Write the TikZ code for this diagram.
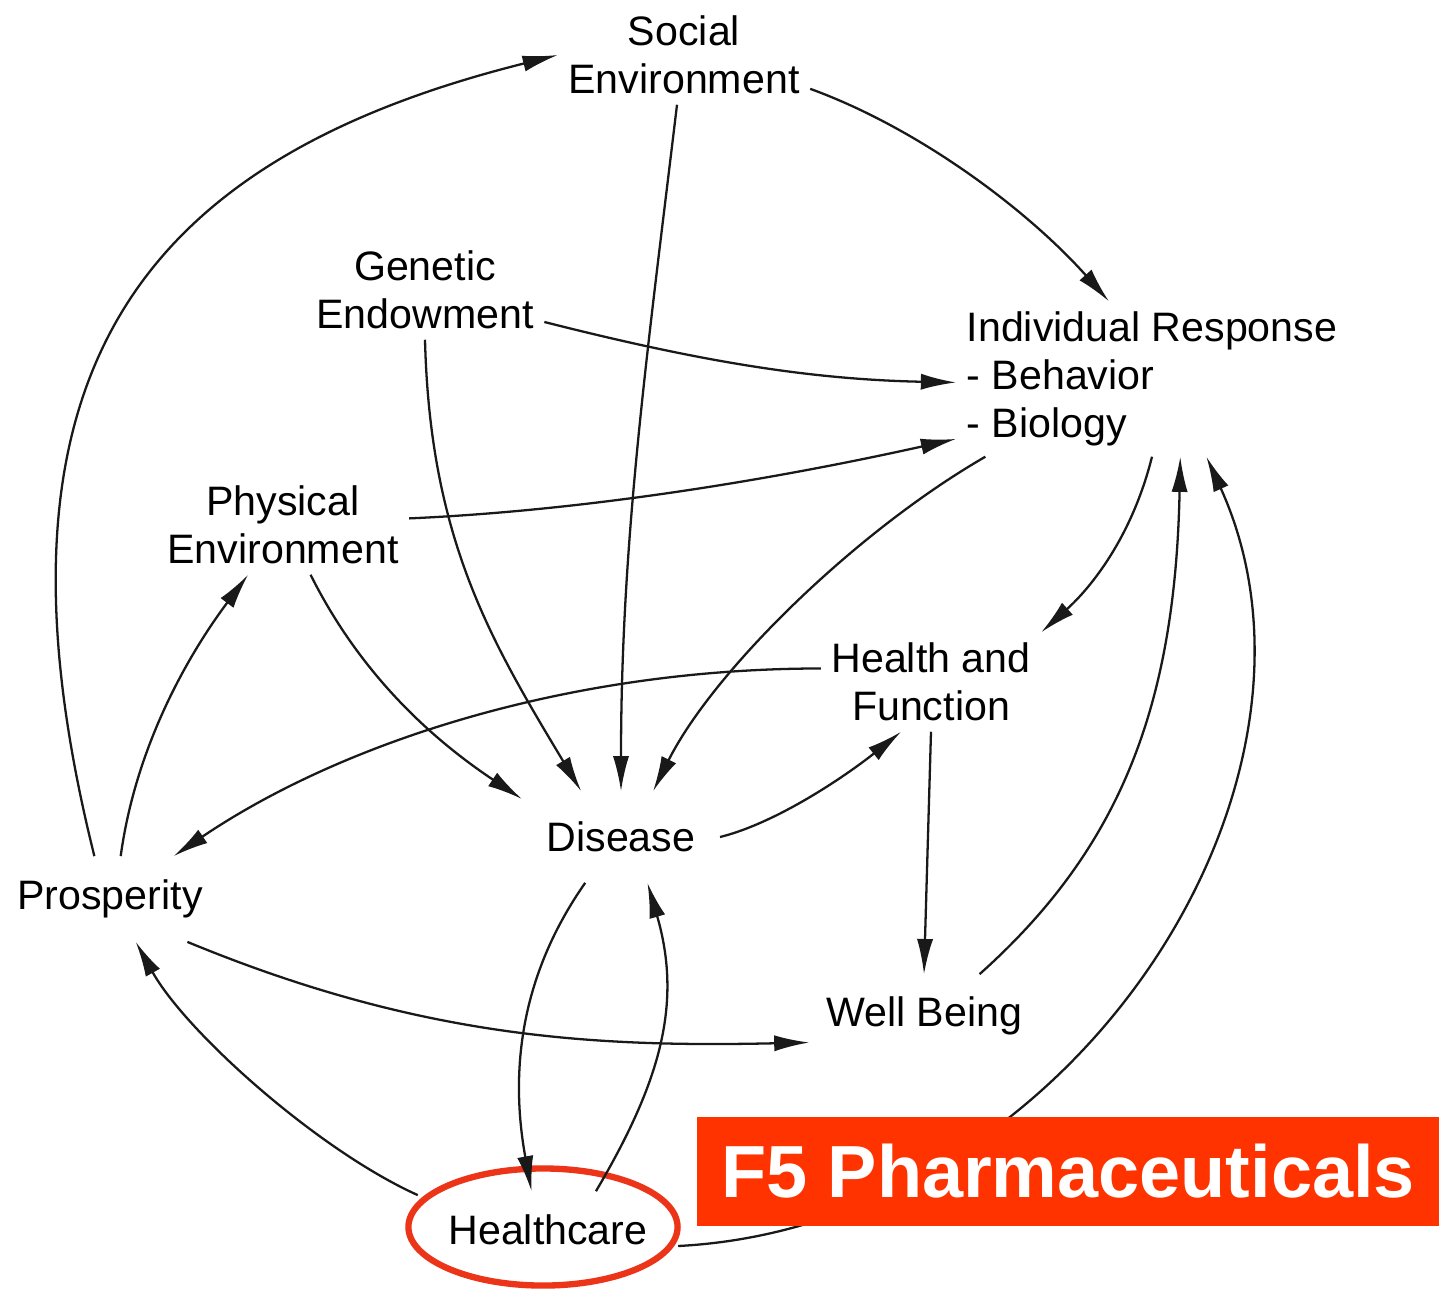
\documentclass[tikz,border=0pt]{standalone}
\usepackage{fontspec}
\setmainfont{Liberation Sans}
\usetikzlibrary{arrows.meta, shapes.geometric}
\definecolor{brandred}{RGB}{255,51,0}
\definecolor{ringred}{RGB}{236,52,24}

\begin{document}
\begin{tikzpicture}[x=0.01cm, y=-0.01cm,
	every node/.style={font=\fontsize{11.7}{13.6}\selectfont},
	factor/.style={align=center, inner sep=0.1cm},
	link/.style={-{Latex[length=10pt,width=4.6pt]}, line width=0.65pt, black!90},
	ring/.style={draw=ringred, line width=1.8pt, ellipse, minimum width=2.69cm, minimum height=1.17cm},
	brand/.style={fill=brandred, text=white, font=\fontsize{21}{21}\selectfont\bfseries, minimum width=7.42cm, minimum height=1.09cm, inner sep=0}]
	\useasboundingbox (0,0) rectangle (1439,1293);

	\node[factor] (soc) at (684,55) {Social\\Environment};
	\node[factor] (gen) at (425,290) {Genetic\\Endowment};
	\node[factor, align=left] (ir) at (1152,379) {Individual Response\\- Behavior\\- Biology};
	\node[factor] (phys) at (283,525) {Physical\\Environment};
	\node[factor] (hf) at (931,682) {Health and\\Function};
	\node[inner xsep=0.24cm, inner ysep=0.3cm] (dis) at (621,837) {Disease};
	\node[inner xsep=0.1cm, inner ysep=0.23cm] (pros) at (110,899) {Prosperity};
	\node[inner xsep=0.16cm, inner ysep=0.22cm] (wb) at (924,1016) {Well Being};
	\node[ring] (halo) at (543,1227) {};
	\node[inner xsep=0.3cm, inner ysep=0.23cm] (hc) at (548,1230) {Healthcare};

	\draw[link] (pros.110) .. controls +(-120,-480) and +(-420,105) .. (soc.west);
	\draw[link] (soc.345) .. controls +(110,40) and +(-80,-90) .. (ir.119);
	\draw[link] (soc.262) .. controls +(-30,250) and +(0,-250) .. (dis.north);
	\draw[link] (gen.345) .. controls +(150,38) and +(-150,-3) .. (ir.181);
	\draw[link] (gen.south) .. controls +(5,200) and +(-90,-150) .. (dis.131);
	\draw[link] (phys.3) .. controls +(180,-8) and +(-180,40) .. (ir.197);
	\draw[link] (phys.299) .. controls +(50,100) and +(-90,-60) .. (dis.159);
	\draw[link] (ir.205) .. controls +(-130,75) and +(60,-120) .. (dis.55);
	\draw[link] (ir.south) .. controls +(-20,80) and +(50,-45) .. (hf.north east);
	\draw[link] (wb.37) .. controls +(140,-125) and +(-5,250) .. (ir.290);
	\draw[link] (hc.353) .. controls +(390,-20) and +(150,330) .. (ir.305);
	\draw[link] (hf.173) .. controls +(-250,0) and +(170,-115) .. (pros.34);
	\draw[link] (dis.east) .. controls +(60,-15) and +(-50,40) .. (hf.239);
	\draw[link] (hf.south) -- (wb.north);
	\draw[link] (pros.76) .. controls +(15,-110) and +(-60,80) .. (phys.235);
	\draw[link] (pros.331) .. controls +(230,95) and +(-220,5) .. (wb.193);
	\draw[link] (dis.232) .. controls +(-70,100) and +(-20,-110) .. (hc.113);
	\draw[link] (hc.39) .. controls +(65,-110) and +(35,120) .. (dis.300);
	\draw[link] (hc.165) .. controls +(-100,-45) and +(50,90) .. (pros.301);

	\node[brand] (f5) at (1068,1171.5) {F5 Pharmaceuticals};
\end{tikzpicture}
\end{document}
